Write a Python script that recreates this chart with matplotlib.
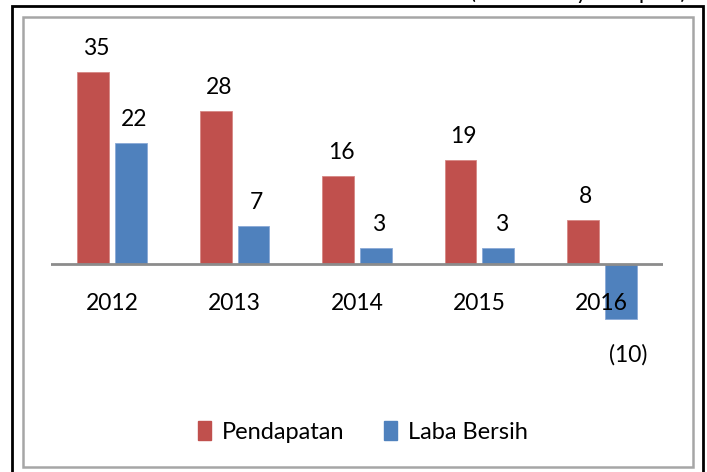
import matplotlib.pyplot as plt
import numpy as np
from matplotlib.patches import Rectangle, Patch

plt.rcParams['font.family'] = ['Lato', 'DejaVu Sans']

years = ['2012', '2013', '2014', '2015', '2016']
pendapatan = [35, 28, 16, 19, 8]
laba_bersih = [22, 7, 3, 3, -10]
red = '#C0504D'
blue = '#4F81BD'

def fmt(v):
    # negatives shown in accounting style
    return '(%d)' % abs(v) if v < 0 else '%d' % v

W, H = 707, 472
fig = plt.figure(figsize=(W / 100, H / 100), dpi=100)

# axes placed so that zero sits at y=264 px, categories 122 px apart
ppu = 5.48
ymin, ymax = -15, 40
top_px = 264 - ymax * ppu
bot_px = 264 - ymin * ppu
ax = fig.add_axes([51 / W, 1 - bot_px / H, 612 / W, (bot_px - top_px) / H])
ax.set_xlim(-0.5, 4.5)
ax.set_ylim(ymin, ymax)
ax.axis('off')

x = np.arange(len(years))
bw = 0.26
off = 0.155
ax.bar(x - off, pendapatan, bw, color=red, edgecolor='#d68784', linewidth=0.6, zorder=2)
ax.bar(x + off, laba_bersih, bw, color=blue, edgecolor='#8aa9d6', linewidth=0.6, zorder=2)
ax.axhline(0, color='#8c8c8c', lw=2, zorder=3)

for i in range(len(years)):
    for xi, v in ((x[i] - off, pendapatan[i]), (x[i] + off, laba_bersih[i])):
        if v >= 0:
            ax.annotate(fmt(v), (xi, v), xytext=(3, 17), textcoords='offset pixels',
                        ha='center', va='baseline', fontsize=16.5, zorder=4)
        else:
            ax.annotate(fmt(v), (xi, v), xytext=(7, -43), textcoords='offset pixels',
                        ha='center', va='baseline', fontsize=16.5, zorder=4)
    ax.annotate(years[i], (x[i], 0), xytext=(0, -46), textcoords='offset pixels',
                ha='center', va='baseline', fontsize=16.5, zorder=5)

handles = [Patch(color=red, label='Pendapatan'), Patch(color=blue, label='Laba Bersih')]
fig.legend(handles=handles, loc='center', bbox_to_anchor=(363 / W, 1 - 432 / H),
           ncol=2, frameon=False, fontsize=17, handlelength=0.55, handleheight=0.85,
           handletextpad=0.45, columnspacing=1.7)

# borders
fig.add_artist(Rectangle((12 / W, -0.05), (703 - 12) / W, 1.05 - 6 / H,
                         transform=fig.transFigure, fill=False, ec='black', lw=2))
fig.add_artist(Rectangle((23 / W, 1 - 467 / H), (693 - 23) / W, (467 - 17) / H,
                         transform=fig.transFigure, fill=False, ec='#a6a6a6', lw=1.8))

# caption cropped at the very top, as in the source image
fig.text(686 / W, 1 + 1.5 / H, '(Dalam Milyar Rupiah)', ha='right', va='baseline', fontsize=16)

fig.savefig('out.png', dpi=100)
